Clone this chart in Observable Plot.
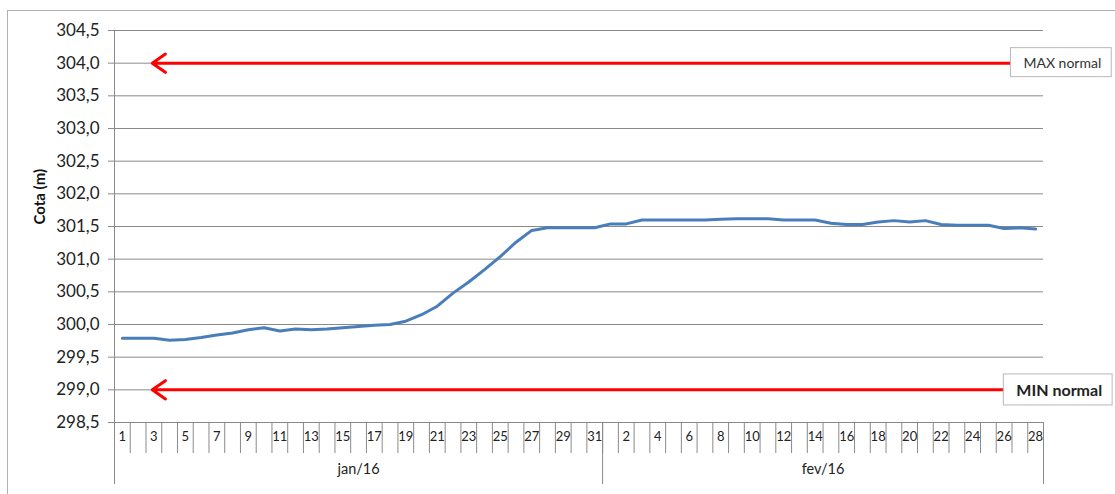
<!DOCTYPE html>
<html>
<head>
<meta charset="utf-8">
<script src="https://cdn.jsdelivr.net/npm/d3@7"></script>
<script src="https://cdn.jsdelivr.net/npm/@observablehq/plot@0.6"></script>
<style>
  html, body { margin: 0; padding: 0; background: #fff; }
  #wrap { position: relative; width: 1115px; height: 494px; overflow: hidden; }
  #frame { position: absolute; left: 7px; top: 10px; width: 1120px; height: 500px; border: 1px solid #b0b0b0; box-sizing: border-box; }
  #chart { position: absolute; left: 0; top: 0; }
  svg { font-family: Lato, "Open Sans", sans-serif; }
</style>
</head>
<body>
<div id="wrap"><div id="frame"></div><div id="chart"></div></div>
<script>
// ---- data ----
const months = ["jan/16", "fev/16"];
const monthDays = [31, 28];
const janCota = [299.79, 299.79, 299.79, 299.76, 299.77, 299.80, 299.84, 299.87, 299.92, 299.95,
                 299.90, 299.93, 299.92, 299.93, 299.95, 299.97, 299.99, 300.00, 300.05, 300.15,
                 300.28, 300.48, 300.65, 300.84, 301.04, 301.26, 301.44, 301.48, 301.48, 301.48, 301.48];
const fevCota = [301.54, 301.54, 301.60, 301.60, 301.60, 301.60, 301.60, 301.61, 301.62, 301.62,
                 301.62, 301.60, 301.60, 301.60, 301.55, 301.53, 301.53, 301.57, 301.59, 301.57,
                 301.59, 301.53, 301.52, 301.52, 301.52, 301.47, 301.48, 301.46];
const yTicks = [298.5, 299.0, 299.5, 300.0, 300.5, 301.0, 301.5, 302.0, 302.5, 303.0, 303.5, 304.0, 304.5];
const limitLabels = ["MAX normal", "MIN normal"];
const limitValues = [304.0, 299.0];
const arrowFrom = [56.9, 56.45];   // category position where each arrow starts (at its label)
const arrowTo = 2.4;               // category position of the arrow tips
const yTitle = "Cota (m)";

// ---- derived tables ----
const rows = [];
[janCota, fevCota].forEach((vals, m) => {
  vals.forEach((v, d) => rows.push({month: months[m], day: d + 1, value: v}));
});
rows.forEach((r, i) => { r.i = i; r.xc = i + 0.5; });
const n = rows.length;
const boundaries = d3.range(0, n + 1);
const labelRows = rows.filter(r => r.i % 2 === 0);
const monthStarts = [0, monthDays[0], monthDays[0] + monthDays[1]];
const monthCenters = months.map((m, k) => ({pos: (monthStarts[k] + monthStarts[k + 1]) / 2, label: m}));
const limits = limitLabels.map((l, k) => ({label: l, value: limitValues[k], from: arrowFrom[k], to: arrowTo}));

const dayByPos = new Map(labelRows.map(r => [r.xc, String(r.day)]));
const monthByPos = new Map(monthCenters.map(c => [c.pos, c.label]));
const grey = "#8a8a8a";

const chart = Plot.plot({
  width: 1115,
  height: 494,
  marginLeft: 114,
  marginRight: 72,
  marginTop: 30,
  marginBottom: 72,
  style: {fontFamily: "Lato, 'Open Sans', sans-serif", color: "#222", background: "transparent"},
  x: {type: "linear", domain: [0, n]},
  y: {domain: [298.5, 304.5]},
  marks: [
    Plot.gridY(yTicks, {stroke: grey, strokeOpacity: 1, strokeWidth: 1}),
    Plot.axisY(yTicks, {
      tickFormat: d => d.toFixed(1).replace(".", ","),
      tickSize: 6, tickPadding: 9, fontSize: 17, stroke: grey, label: null
    }),
    Plot.ruleY([298.5], {stroke: grey}),
    // category tick marks
    Plot.axisX(boundaries, {tickSize: 31, tickFormat: () => "", stroke: grey, label: null}),
    // day labels
    Plot.axisX(labelRows.map(r => r.xc), {
      tickSize: 0, tickPadding: 9, tickFormat: d => dayByPos.get(d), fontSize: 13, label: null, anchor: "bottom"
    }),
    // month separators
    Plot.axisX(monthStarts, {tickSize: 62, tickFormat: () => "", stroke: grey, label: null}),
    // month labels
    Plot.axisX(monthCenters.map(c => c.pos), {
      tickSize: 0, tickPadding: 41, tickFormat: d => monthByPos.get(d), fontSize: 14.5, label: null
    }),
    Plot.ruleX([0], {y1: 298.5, y2: 304.5, stroke: grey}),
    // series
    Plot.line(rows, {x: "xc", y: "value", stroke: "#4a7ebb", strokeWidth: 3, curve: "linear"}),
    // limit arrows
    Plot.arrow(limits, {
      x1: "from", x2: "to", y1: "value", y2: "value", stroke: "#ff0000",
      strokeWidth: 3, headLength: 8, headAngle: 70, bend: 0
    }),
    Plot.text(limits.filter(d => d.label.startsWith("MAX")), {
      x: "from", y: "value", text: "label", textAnchor: "start", dx: 13,
      fontSize: 14, fill: "#333", className: "limit-label"
    }),
    Plot.text(limits.filter(d => d.label.startsWith("MIN")), {
      x: "from", y: "value", text: "label", textAnchor: "start", dx: 13, dy: 1,
      fontSize: 16, fontWeight: "bold", fill: "#222", className: "limit-label"
    }),
    Plot.text([yTitle], {
      frameAnchor: "left", dx: -74, dy: -2, rotate: -90, fontWeight: "bold", fontSize: 15, fill: "#111"
    })
  ]
});

document.getElementById("chart").appendChild(chart);

// boxes behind the limit labels
chart.querySelectorAll("g.limit-label text").forEach(t => {
  const b = t.getBBox();
  const padL = 13, padR = 10, padV = 6;
  const r = document.createElementNS("http://www.w3.org/2000/svg", "rect");
  r.setAttribute("x", b.x - padL);
  r.setAttribute("y", b.y - padV);
  r.setAttribute("width", b.width + padL + padR);
  r.setAttribute("height", b.height + padV * 2);
  r.setAttribute("fill", "#fff");
  r.setAttribute("stroke", "#b8b8b8");
  const tr = t.getAttribute("transform");
  if (tr) r.setAttribute("transform", tr);
  t.parentNode.insertBefore(r, t);
});
</script>
</body>
</html>
